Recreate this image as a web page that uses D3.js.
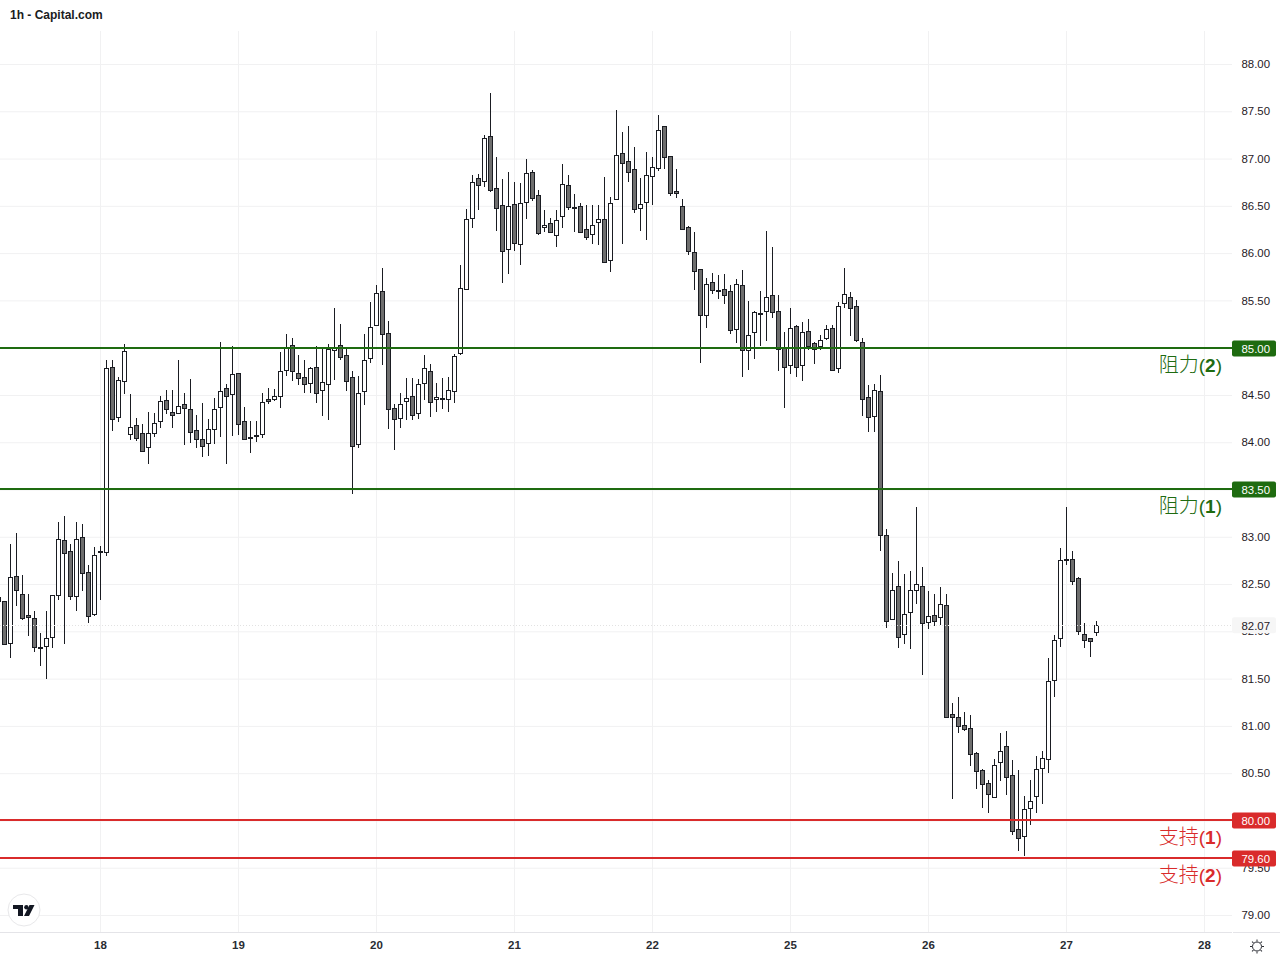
<!DOCTYPE html>
<html>
<head>
<meta charset="utf-8">
<title>1h - Capital.com</title>
<script src="https://cdn.jsdelivr.net/npm/d3@7"></script>
<style>
    html, body { margin: 0; padding: 0; background: #fff; }
    svg { display: block; }
    text { font-family: "Liberation Sans", Arial, sans-serif; }
</style>
</head>
<body>
<div id="chart"></div>
<script>
var width = 1280;
var height = 960;

// hourly candles, left to right
var opens = [82.37,82.33,81.88,82.59,82.40,82.18,82.15,81.84,81.86,81.95,82.39,82.97,82.85,82.38,83.00,82.63,82.19,82.86,
    82.84,84.80,84.27,84.65,84.10,84.19,84.10,83.95,84.10,84.23,84.45,84.32,84.32,84.41,84.36,84.13,84.04,83.99,84.15,84.38,84.58,84.52,
    84.74,84.23,84.06,84.07,84.09,84.46,84.46,84.50,84.77,85.03,84.74,84.69,84.63,84.80,84.56,84.62,84.98,85.03,84.93,84.69,83.99,84.55,84.89,
    85.24,85.60,85.16,84.37,84.26,84.44,84.49,84.31,84.63,84.76,84.46,84.47,84.47,84.55,84.95,85.63,86.38,86.80,86.76,87.24,86.69,86.51,
    86.04,86.52,86.10,86.54,86.86,86.62,86.28,86.32,86.20,86.40,86.73,86.49,86.50,86.26,86.20,86.34,86.37,85.94,86.57,87.06,86.98,86.89,86.48,
    86.54,86.83,86.91,87.35,87.03,86.66,86.50,86.28,86.02,85.84,85.35,85.70,85.61,85.63,85.60,85.20,85.67,84.98,85.17,85.37,85.39,85.56,85.39,
    85.01,84.82,85.23,84.82,85.18,85.05,85.03,85.10,85.21,84.79,85.48,85.54,85.45,85.06,84.48,84.28,84.55,83.02,82.13,82.48,81.98,82.21,82.45,
    82.49,82.11,82.18,82.15,82.28,81.13,81.10,81.01,80.98,80.72,80.54,80.40,80.25,80.62,80.79,80.49,79.91,79.84,80.14,80.26,80.56,80.66,81.49,81.94,
    82.77,82.77,82.57,81.98,81.93,82.00];
var highs = [82.37,82.33,82.93,83.04,82.60,82.40,82.22,81.99,82.22,82.39,83.16,83.23,82.93,83.16,83.14,82.71,82.90,82.91,
    84.88,84.87,84.69,85.04,84.51,84.26,84.20,84.33,84.31,84.49,84.56,84.56,84.87,84.53,84.67,84.29,84.42,84.25,84.47,85.07,84.62,85.02,
    84.74,84.38,84.23,84.23,84.53,84.58,84.57,84.96,85.15,85.11,84.93,84.87,84.80,85.02,84.99,85.04,85.42,85.26,85.01,84.76,84.71,85.15,85.49,
    85.67,85.85,85.29,84.41,84.53,84.68,84.68,84.67,84.93,84.83,84.63,84.68,84.70,84.94,85.88,86.47,86.83,86.84,87.25,87.70,87.02,86.79,
    86.86,86.76,86.75,87.00,86.88,86.67,86.46,86.38,86.46,86.95,86.83,86.63,86.54,86.51,86.51,86.51,86.81,86.60,87.52,87.29,87.35,87.13,86.80,
    87.07,87.02,87.47,87.35,87.03,86.89,86.58,86.29,86.23,85.84,85.74,85.80,85.77,85.78,85.67,85.73,85.83,85.50,85.39,85.60,86.24,86.07,85.56,
    85.17,85.43,85.25,85.28,85.31,85.07,85.14,85.24,85.25,85.49,85.85,85.59,85.51,85.11,84.61,84.62,84.72,83.09,82.62,82.75,82.61,82.64,83.32,
    82.69,82.43,82.40,82.47,82.40,81.25,81.31,81.15,81.12,80.73,80.55,80.43,80.65,80.93,80.95,80.64,80.54,80.26,80.43,80.69,80.74,81.72,81.97,82.89,
    83.32,82.85,82.58,82.09,81.94,82.11];
var lows = [82.33,81.86,81.72,82.27,82.13,81.96,81.79,81.64,81.50,81.83,82.34,81.87,82.34,82.22,82.43,82.09,82.17,82.34,
    82.80,84.12,84.22,84.52,84.03,84.02,83.91,83.78,84.06,84.16,84.30,84.16,84.32,83.98,84.00,83.94,83.85,83.86,83.99,84.06,83.78,84.07,
    84.08,84.04,83.89,84.01,84.05,84.41,84.44,84.37,84.71,84.65,84.61,84.53,84.53,84.42,84.28,84.24,84.66,84.87,84.55,83.46,83.94,84.40,84.84,
    85.23,84.82,84.15,83.92,84.16,84.24,84.24,84.25,84.45,84.27,84.33,84.36,84.33,84.42,84.93,85.63,86.27,86.46,86.70,86.65,86.24,85.69,
    85.78,86.03,85.88,86.37,86.56,86.20,86.23,86.22,86.07,86.27,86.46,86.23,86.23,86.14,86.10,86.09,85.92,85.81,86.57,86.10,86.76,86.43,86.24,
    86.14,86.51,86.87,86.89,86.61,86.59,86.26,85.99,85.62,84.84,85.21,85.57,85.52,85.47,85.15,85.05,84.70,84.77,84.89,85.02,85.08,85.32,84.76,
    84.37,84.73,84.69,84.65,84.98,84.83,84.98,85.09,84.76,84.74,85.42,85.13,85.06,84.28,84.11,84.11,82.85,82.04,82.13,81.83,81.87,81.82,82.29,
    81.54,82.03,82.06,82.07,81.10,80.23,80.93,80.95,80.58,80.34,80.14,80.08,80.24,80.42,80.27,79.85,79.68,79.63,79.96,80.08,80.18,80.51,81.31,81.84,
    82.71,82.50,81.97,81.83,81.73,81.96];
var closes = [82.33,81.87,82.58,82.44,82.15,82.16,81.84,81.83,81.94,82.39,82.98,82.83,82.37,82.98,82.62,82.16,82.81,82.85,
    84.79,84.25,84.66,84.97,84.17,84.05,83.91,84.10,84.21,84.44,84.35,84.29,84.39,84.37,84.12,84.03,83.97,84.14,84.36,84.55,84.50,84.73,
    84.20,84.04,84.05,84.08,84.43,84.44,84.49,84.76,85.01,84.75,84.69,84.62,84.79,84.53,84.64,84.99,85.00,84.90,84.66,83.96,84.53,84.88,85.22,
    85.58,85.14,84.36,84.25,84.41,84.47,84.29,84.62,84.79,84.43,84.48,84.46,84.56,84.92,85.64,86.37,86.76,86.73,87.22,86.67,86.48,86.02,
    86.50,86.11,86.53,86.85,86.59,86.22,86.30,86.23,86.36,86.74,86.50,86.48,86.23,86.18,86.30,86.37,85.92,86.54,87.04,86.95,86.86,86.47,86.52,
    86.83,86.92,87.31,87.02,86.64,86.64,86.26,86.03,85.82,85.35,85.68,85.62,85.60,85.57,85.19,85.68,84.98,85.14,85.38,85.36,85.54,85.38,84.99,
    84.80,85.21,84.80,85.17,85.02,84.99,85.09,85.20,84.77,85.45,85.57,85.42,85.09,84.46,84.27,84.56,83.03,82.11,82.44,81.94,82.19,82.44,82.51,
    82.10,82.17,82.12,82.29,81.10,81.10,81.00,80.97,80.71,80.53,80.39,80.28,80.59,80.74,80.46,79.90,79.82,80.13,80.21,80.55,80.67,81.48,81.91,82.76,
    82.76,82.54,82.01,81.92,81.90,82.07];

// candle position of each day label
var dayIndex = [17, 40, 63, 86, 109, 132, 155, 178, 201];
var dayLabels = ["18", "19", "20", "21", "22", "25", "26", "27", "28"];

var priceTicks = [79, 79.5, 80, 80.5, 81, 81.5, 82, 82.5, 83, 83.5, 84, 84.5, 85, 85.5, 86, 86.5, 87, 87.5, 88];

var levelPrices = [85.00, 83.50, 80.00, 79.60];
var levelNames = ["阻力", "阻力", "支持", "支持"];
var levelNums = ["2", "1", "1", "2"];
var levelColors = ["#1e6b10", "#1e6b10", "#d92b2b", "#d92b2b"];

var lastPrice = 82.07;

var plotRight = 1232;
var plotBottom = 932;
var axisFont = '"Liberation Sans", Arial, sans-serif';

var x = d3.scaleLinear().domain([17, 201]).range([100.5, 1204.5]);
var y = d3.scaleLinear().domain([79, 88]).range([915.5, 64.5]);

var svg = d3.select("#chart").append("svg")
    .attr("width", width)
    .attr("height", height)
    .style("background-color", "white");

svg.append("defs").append("clipPath").attr("id", "plot")
    .append("rect").attr("x", 0).attr("y", 0).attr("width", plotRight).attr("height", plotBottom);

// grid, from the same scales as the labels
var gridY = svg.append("g")
    .call(d3.axisRight(y).offset(0).tickValues(priceTicks).tickSize(plotRight).tickFormat(""));
gridY.select(".domain").remove();
gridY.selectAll("line").attr("stroke", "#f1f1f2");

var gridX = svg.append("g")
    .attr("transform", "translate(0," + plotBottom + ")")
    .call(d3.axisTop(x).offset(0).tickValues(dayIndex).tickSize(plotBottom - 31).tickFormat(""));
gridX.select(".domain").remove();
gridX.selectAll("line").attr("stroke", "#f1f1f2");

// axis border, with the small gap where the price axis starts
[[0, plotRight], [plotRight + 1, width]].forEach(function (seg) {
    svg.append("line").attr("x1", seg[0]).attr("x2", seg[1])
        .attr("y1", plotBottom + 0.5).attr("y2", plotBottom + 0.5)
        .attr("stroke", "#e4e4e8");
});

// candles
var candles = svg.append("g").attr("clip-path", "url(#plot)");
var wickColor = "#1a1c22";

candles.selectAll("line.wick")
    .data(d3.range(opens.length))
    .enter().append("line")
    .attr("class", "wick")
    .attr("x1", function (i) { return x(i); })
    .attr("x2", function (i) { return x(i); })
    .attr("y1", function (i) { return Math.round(y(highs[i])); })
    .attr("y2", function (i) { return Math.round(y(lows[i])); })
    .attr("stroke", wickColor)
    .attr("stroke-width", 1);

candles.selectAll("rect.body")
    .data(d3.range(opens.length))
    .enter().append("rect")
    .attr("class", "body")
    .attr("x", function (i) { return x(i) - 2; })
    .attr("y", function (i) { return Math.round(y(Math.max(opens[i], closes[i]))) + 0.5; })
    .attr("width", 4)
    .attr("height", function (i) {
        return Math.max(1, Math.round(Math.abs(y(opens[i]) - y(closes[i]))));
    })
    .attr("fill", function (i) { return closes[i] >= opens[i] ? "#ffffff" : "#6e6e6e"; })
    .attr("stroke", wickColor)
    .attr("stroke-width", 1);

// last price dotted line
svg.append("line")
    .attr("x1", 0).attr("x2", plotRight)
    .attr("y1", Math.floor(y(lastPrice)) + 0.5).attr("y2", Math.floor(y(lastPrice)) + 0.5)
    .attr("stroke", "#e2e2e2")
    .attr("stroke-dasharray", "1 2");

// price axis
var priceAxis = svg.append("g")
    .attr("transform", "translate(1270,0)")
    .call(d3.axisLeft(y).offset(0).tickValues(priceTicks).tickSize(0).tickPadding(0).tickFormat(d3.format(".2f")));
priceAxis.select(".domain").remove();
priceAxis.selectAll("text")
    .attr("font-size", 11.4)
    .style("font-family", axisFont)
    .attr("fill", "#1f2026");

// day axis
var dayAxis = svg.append("g")
    .attr("transform", "translate(0,941)")
    .call(d3.axisBottom(x).offset(0).tickValues(dayIndex).tickSize(0).tickPadding(0)
        .tickFormat(function (d, i) { return dayLabels[i]; }));
dayAxis.select(".domain").remove();
dayAxis.selectAll("text")
    .attr("font-size", 11.5)
    .attr("font-weight", "bold")
    .style("font-family", axisFont)
    .attr("fill", "#2a2c33");

// current price tag
svg.append("rect")
    .attr("x", plotRight).attr("width", 44)
    .attr("y", y(lastPrice) - 8).attr("height", 16)
    .attr("rx", 2)
    .attr("fill", "#f6f6f6");
svg.append("text")
    .attr("x", 1270).attr("y", y(lastPrice) + 5)
    .attr("text-anchor", "end")
    .attr("font-size", 11.4)
    .attr("fill", "#1f2026")
    .text(d3.format(".2f")(lastPrice));

// support and resistance lines
levelPrices.forEach(function (p, i) {
    var ly = Math.round(y(p) - 0.55);
    var g = svg.append("g");
    g.append("line")
        .attr("x1", 0).attr("x2", plotRight)
        .attr("y1", ly).attr("y2", ly)
        .attr("stroke", levelColors[i])
        .attr("stroke-width", 2);
    g.append("rect")
        .attr("x", plotRight).attr("width", 44)
        .attr("y", ly - 7.5).attr("height", 16)
        .attr("rx", 2)
        .attr("fill", levelColors[i]);
    g.append("text")
        .attr("x", 1270).attr("y", ly + 4.5)
        .attr("text-anchor", "end")
        .attr("font-size", 11.4)
        .attr("fill", "#ffffff")
        .text(d3.format(".2f")(p));
    var label = g.append("text")
        .attr("x", 1222).attr("y", ly + 24)
        .attr("text-anchor", "end")
        .attr("fill", levelColors[i])
        .attr("font-size", 20);
    label.append("tspan")
        .style("font-family", '"Noto Sans CJK SC"')
        .style("font-weight", 300)
        .text(levelNames[i]);
    label.append("tspan")
        .style("font-family", axisFont)
        .attr("font-size", 19)
        .text("(");
    label.append("tspan")
        .style("font-family", axisFont)
        .style("font-weight", "bold")
        .attr("font-size", 19)
        .text(levelNums[i]);
    label.append("tspan")
        .style("font-family", axisFont)
        .attr("font-size", 19)
        .text(")");
});

// title
svg.append("text")
    .attr("x", 10).attr("y", 19)
    .attr("font-size", 12)
    .attr("font-weight", "bold")
    .attr("fill", "#1a1c22")
    .text("1h - Capital.com");

// tradingview badge
var logo = svg.append("g").attr("transform", "translate(24,910)");
logo.append("circle").attr("r", 16).attr("fill", "#fff").attr("stroke", "#e8e8ea");
logo.append("path")
    .attr("d", "M-11,-5H-1V6H-6V-1H-11Z M5.5,-5H10.5L5,6H0Z")
    .attr("fill", "#131722");
logo.append("circle").attr("cx", 2.4).attr("cy", -2.8).attr("r", 2.2).attr("fill", "#131722");

// settings icon
var sun = svg.append("g").attr("transform", "translate(1257,946.5)");
sun.append("circle").attr("r", 4.5).attr("fill", "none").attr("stroke", "#2a2c33").attr("stroke-width", 1);
sun.selectAll("line")
    .data(d3.range(0, 360, 45))
    .enter().append("line")
    .attr("y1", -5).attr("y2", -7)
    .attr("transform", function (d) { return "rotate(" + d + ")"; })
    .attr("stroke", "#2a2c33");
</script>
</body>
</html>
